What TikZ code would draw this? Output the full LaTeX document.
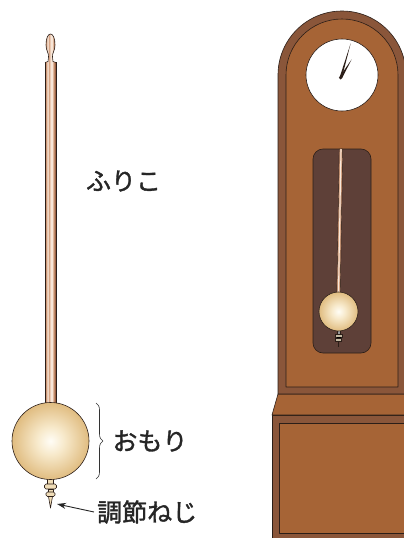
\documentclass[tikz,border=0pt]{standalone}
\usepackage{fontspec}
\newfontfamily\jp[FakeBold=1.4]{Noto Sans CJK JP}
\usetikzlibrary{decorations.pathreplacing,arrows.meta}

\definecolor{outline}{HTML}{2B1E18}
\definecolor{framedark}{HTML}{8A563A}
\definecolor{wood}{HTML}{A66436}
\definecolor{window}{HTML}{5E4038}
\definecolor{roddark}{HTML}{9C6244}
\definecolor{rodmid}{HTML}{D29C7A}
\definecolor{rodlight}{HTML}{F8E6D8}
\definecolor{bobedge}{HTML}{E0BC80}
\definecolor{bobmid}{HTML}{F2DCAE}
\definecolor{bobcenter}{HTML}{FFFDF6}
\definecolor{screwlight}{HTML}{F0DDB8}
\definecolor{screwgray}{HTML}{9A9A9A}

% horizontal stripes of the turned wooden rod
\pgfdeclarehorizontalshading{rod}{100bp}{color(0bp)=(roddark); color(25bp)=(roddark);
  color(30bp)=(rodmid); color(37bp)=(rodlight); color(44bp)=(rodmid); color(50bp)=(rodlight);
  color(57bp)=(rodlight); color(64bp)=(rodmid); color(70bp)=(roddark); color(100bp)=(roddark)}
% brass bob with a soft central highlight
\pgfdeclareradialshading{bob}{\pgfpoint{0bp}{0bp}}{color(0bp)=(bobcenter); color(9bp)=(bobmid!60!bobcenter);
  color(25bp)=(bobedge); color(50bp)=(bobedge)}

\tikzset{
  edge/.style={draw=outline, line width=0.6pt},
  label/.style={font=\jp\fontsize{25}{25}\selectfont, text=black!85, inner sep=0pt},
}

\begin{document}
\begin{tikzpicture}[x=1pt, y=-1pt, line join=round]
\useasboundingbox (0,0) rectangle (404,538);
\clip (0,0) rectangle (404,538);

% ---------- clock case ----------
% base box
\filldraw[fill=framedark, edge] (272,415) rectangle (420,560);
\filldraw[fill=wood, edge] (279,423) rectangle (420,533);
% sloped plinth
\filldraw[fill=wood, edge] (278,394) -- (420,394) -- (420,415) -- (272,415) -- cycle;
% trunk with round top
\filldraw[fill=framedark, edge] (278,394) -- (278,75) arc[start angle=180, end angle=360, radius=64] -- (406,394) -- cycle;
\filldraw[fill=wood, edge] (286,387) -- (286,75) arc[start angle=180, end angle=360, radius=56] -- (398,387) -- cycle;

% dial
\filldraw[fill=white, edge] (342,75) circle[radius=36];
\fill[outline] (339.6,77.4) -- (350.7,43.3) -- (341.8,78.0) -- cycle;
\fill[outline] (339.5,77.0) -- (351.7,59.3) -- (341.9,78.4) -- cycle;
\fill[outline] (340.7,77.7) circle[radius=1.8];

% pendulum window
\filldraw[fill=window, edge, rounded corners=10pt] (313,149) rectangle (371,353);
\filldraw[fill=rodmid, draw=outline, line width=0.4pt] (339.3,149) -- (342.7,149) -- (340.2,293) -- (336.8,293) -- cycle;
\draw[rodlight, line width=1.1pt] (341,149) -- (338.5,293);
% small screw
\filldraw[fill=screwgray, draw=outline, line width=0.4pt] (337,330) rectangle (340,334);
\filldraw[fill=screwlight!60!gray, draw=outline, line width=0.4pt] (335,334) rectangle (342,337);
\filldraw[fill=outline] (337,337) rectangle (340,338.5);
\filldraw[fill=screwlight!60!gray, draw=outline, line width=0.4pt] (335.5,338.5) rectangle (341.5,341);
\draw[outline, line width=1.2pt] (338.5,341) -- (338.5,347);
% small bob
\shade[shading=bob] (338.5,311.5) circle[radius=19.5];
\draw[edge] (338.5,311.5) circle[radius=19.5];

% ---------- loose pendulum ----------
% rod and finial
\shade[shading=rod] (45,62) rectangle (56,405);
\draw[edge] (45,405) -- (45,62) (56,62) -- (56,405);
\shade[shading=rod] (45,62.5) -- (48,61.5) -- (48.5,57) .. controls (49,53) and (46,51) .. (46,45)
  .. controls (46,38) and (48,34) .. (50.5,34) .. controls (53,34) and (55,38) .. (55,45)
  .. controls (55,51) and (52,53) .. (52.5,57) -- (53,61.5) -- (56,62.5) -- cycle;
\draw[edge] (45,62.5) -- (48,61.5) -- (48.5,57) .. controls (49,53) and (46,51) .. (46,45)
  .. controls (46,38) and (48,34) .. (50.5,34) .. controls (53,34) and (55,38) .. (55,45)
  .. controls (55,51) and (52,53) .. (52.5,57) -- (53,61.5) -- (56,62.5);

% adjusting screw
\filldraw[fill=screwlight, edge] (47.5,478) rectangle (53.5,484);
\filldraw[fill=screwlight, edge, rounded corners=1.5pt] (44.5,484) rectangle (56.5,489);
\filldraw[fill=screwlight, edge] (48,489) rectangle (53,492);
\filldraw[fill=screwlight, edge, rounded corners=1.5pt] (46,492) rectangle (55,496.5);
\filldraw[fill=screwlight, edge] (48.5,496.5) -- (50.5,508) -- (52.5,496.5) -- cycle;

% bob
\shade[shading=bob] (50.5,441) circle[radius=38.5];
\draw[edge] (50.5,441) circle[radius=38.5];

% ---------- labels ----------
\node[label] (rodlabel) at (123.5,181) {ふりこ};
\node[label] (boblabel) at (150,441) {おもり};
\node[label, anchor=west] (screwlabel) at (97,512) {調節ねじ};

\coordinate (bobtop) at (96,403);
\coordinate (bobbottom) at (96,479);
\draw[decorate, decoration={brace, amplitude=7pt}, black!80, line width=0.6pt] (bobtop) -- (bobbottom);

\coordinate (screwtip) at (57,504);
\draw[-{Stealth[length=9pt, width=6pt]}, black!85, line width=0.9pt] ([xshift=-3pt]screwlabel.west) -- (screwtip);
\end{tikzpicture}
\end{document}
